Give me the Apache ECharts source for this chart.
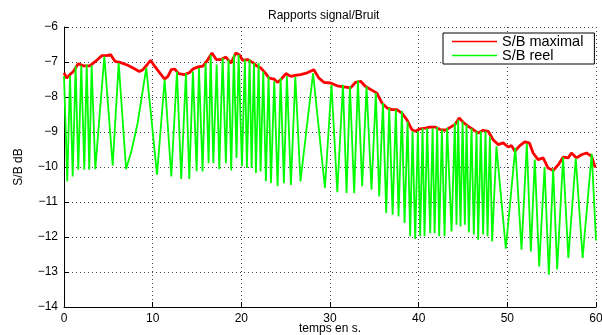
<!DOCTYPE html>
<html>
<head>
<meta charset="utf-8">
<script src="https://cdn.jsdelivr.net/npm/echarts@6/dist/echarts.min.js"></script>
<style>html,body{margin:0;padding:0;background:#fff}#c{width:602px;height:335px}</style>
</head>
<body>
<div id="c"></div>
<script>
const titleText = 'Rapports signal/Bruit';
const xName = 'temps en s.';
const yName = 'S/B dB';
const seriesNames = ['S/B maximal', 'S/B reel'];
const xTicks = [0, 10, 20, 30, 40, 50, 60];
const yTicks = [-14, -13, -12, -11, -10, -9, -8, -7, -6];

const redT = [0,0.3,0.6,1.05,1.6,2.2,2.9,3.3,3.7,4.25,4.8,5.25,5.75,6.3,7.07,7.8,8.5,8.9,9.3,9.77,10.22,10.8,11.35,11.72,12.1,12.48,12.93,13.6,14.17,14.54,15.1,15.67,16.23,16.69,17.17,17.7,18.26,18.83,19.39,19.76,20.15,20.71,21.27,21.72,22.2,22.69,23.14,23.71,24.08,24.46,25.03,25.59,26.07,26.68,27.43,28.18,28.75,29.31,30.07,30.81,31.57,32.32,32.89,33.45,34.01,34.76,35.29,35.85,36.41,36.98,37.54,38.11,38.67,39.23,39.61,40.17,40.73,41.3,41.86,42.42,42.99,43.6,44.08,44.57,45.02,45.58,46.15,46.71,47.27,47.84,48.4,48.96,49.53,50.09,50.47,50.85,51.41,51.97,52.5,52.91,53.47,54.04,54.6,55.17,55.73,56.29,56.86,57.23,57.8,58.36,58.93,59.49,59.86,60];
const redV = [-7.31,-7.46,-7.38,-7.27,-7.05,-7.11,-7.11,-7.03,-6.95,-6.82,-6.82,-6.79,-6.98,-7.01,-7.08,-7.17,-7.27,-7.22,-7.10,-6.95,-7.12,-7.31,-7.49,-7.41,-7.22,-7.2,-7.33,-7.36,-7.3,-7.2,-7.14,-7.12,-6.93,-6.74,-6.93,-6.93,-6.86,-7.03,-6.74,-6.79,-6.95,-6.93,-7.01,-7.11,-7.17,-7.31,-7.46,-7.49,-7.58,-7.5,-7.33,-7.41,-7.38,-7.36,-7.31,-7.22,-7.46,-7.58,-7.6,-7.68,-7.71,-7.74,-7.58,-7.55,-7.7,-7.81,-7.89,-8.17,-8.31,-8.36,-8.36,-8.46,-8.65,-8.93,-8.98,-8.91,-8.89,-8.86,-8.86,-8.93,-8.95,-8.86,-8.79,-8.6,-8.72,-8.84,-8.93,-9.03,-8.95,-8.98,-9.22,-9.36,-9.31,-9.43,-9.39,-9.55,-9.39,-9.28,-9.32,-9.6,-9.79,-9.74,-10.03,-10.1,-9.94,-9.72,-9.74,-9.6,-9.74,-9.65,-9.6,-9.69,-9.98,-10.0];

const greenT = [0,0.37,0.68,0.98,1.31,1.61,1.95,2.29,2.56,2.85,3.12,3.53,4.55,5.49,6.17,7.0,7.6,8.3,9.28,10.49,11.35,12.1,12.74,13.22,13.75,14.13,14.54,14.96,15.22,15.63,15.97,16.31,16.54,16.84,17.22,17.51,17.89,18.26,18.56,18.86,19.16,19.46,19.69,20.07,20.4,20.63,20.93,21.16,21.42,21.65,21.95,22.17,22.47,22.77,23.07,23.34,23.71,24.09,24.43,24.8,25.14,25.59,26.09,26.67,28.09,29.43,30.17,30.82,31.46,31.87,32.25,32.73,33.15,33.63,34.12,34.68,35.17,35.55,35.97,36.34,36.68,37.06,37.43,37.73,38.11,38.41,38.75,39.04,39.31,39.61,39.91,40.17,40.44,40.66,40.96,41.3,41.57,41.8,42.09,42.31,42.62,42.92,43.21,43.71,44.08,44.27,44.45,44.72,44.95,45.21,45.4,45.66,45.96,46.22,46.53,46.71,47.01,47.27,47.54,47.77,48.03,48.29,48.77,49.83,50.9,51.6,52.2,52.65,53.1,53.59,54.2,54.68,55.17,55.62,56.29,56.88,57.72,58.49,59.52,60];
const greenV = [-7.4,-10.41,-7.39,-10.27,-7.12,-10.08,-7.1,-10.08,-7.07,-10.08,-7.1,-10.06,-6.84,-9.96,-7.03,-10.06,-9.55,-8.75,-7.17,-10.22,-7.5,-10.27,-7.27,-10.34,-7.32,-10.34,-7.27,-10.12,-7.17,-10.13,-7.03,-9.89,-6.79,-9.89,-7.07,-10.06,-6.89,-9.89,-6.93,-10.1,-6.79,-9.74,-6.79,-9.98,-6.93,-10.03,-6.93,-10.03,-7.03,-10.17,-7.03,-10.13,-7.27,-10.41,-7.41,-10.46,-7.55,-10.55,-7.46,-10.46,-7.41,-10.51,-7.42,-10.41,-7.32,-10.6,-7.65,-10.72,-7.65,-10.74,-7.7,-10.75,-7.53,-10.55,-7.7,-10.65,-7.89,-10.84,-8.17,-11.31,-8.31,-11.36,-8.36,-11.41,-8.4,-11.6,-8.7,-11.98,-8.98,-12.06,-8.98,-11.98,-8.89,-11.98,-8.89,-11.89,-8.89,-11.89,-8.86,-11.98,-8.93,-11.98,-8.89,-11.84,-8.74,-11.65,-8.65,-11.7,-8.7,-11.65,-8.79,-11.87,-8.89,-11.93,-8.98,-12.08,-8.98,-11.93,-8.98,-11.98,-9.13,-12.13,-9.41,-12.33,-9.45,-12.36,-9.33,-12.41,-9.79,-12.84,-10.0,-13.08,-10.05,-12.93,-9.72,-12.6,-9.75,-12.6,-9.62,-12.1];

const FONT = '"Liberation Sans", Arial, sans-serif';
const chart = echarts.init(document.getElementById('c'), null, {renderer: 'canvas'});
const gridLine = {show: true, showMinLine: true, showMaxLine: true, lineStyle: {color: '#444', type: [1, 3], width: 1}};
chart.setOption({
  animation: false,
  backgroundColor: '#fff',
  title: {
    text: titleText, left: 263, top: 5,
    textStyle: {fontFamily: FONT, fontSize: 12, fontWeight: 'normal', color: '#000'}
  },
  legend: {
    orient: 'vertical', left: 443, top: 33,
    data: seriesNames.map(n => ({name: n, icon: 'rect'})),
    backgroundColor: '#fff', borderColor: '#000', borderWidth: 1, borderRadius: 0,
    padding: [1, 11, 1, 9], itemGap: -1, itemWidth: 45, itemHeight: 1.5,
    textStyle: {fontFamily: FONT, fontSize: 14.5, color: '#000', lineHeight: 13}
  },
  grid: {left: 64, right: 6, top: 27, bottom: 28, containLabel: false, outerBoundsMode: 'none'},
  xAxis: {
    type: 'value', min: xTicks[0], max: xTicks[xTicks.length - 1], interval: 10,
    name: xName, nameLocation: 'middle', nameGap: 16, nameMoveOverlap: false,
    nameTextStyle: {fontFamily: FONT, fontSize: 12, color: '#000', verticalAlign: 'top'},
    axisLine: {show: true, onZero: false, lineStyle: {color: '#000', width: 1}},
    axisTick: {show: true, inside: true, length: 5, lineStyle: {color: '#000'}},
    axisLabel: {fontFamily: FONT, fontSize: 12, color: '#000', margin: 6},
    splitLine: gridLine
  },
  yAxis: {
    type: 'value', min: yTicks[0], max: yTicks[yTicks.length - 1], interval: 1,
    name: yName, nameLocation: 'middle', nameGap: 39, nameRotate: 90, nameMoveOverlap: false,
    nameTextStyle: {fontFamily: FONT, fontSize: 12, color: '#000'},
    axisLine: {show: true, onZero: false, lineStyle: {color: '#000', width: 1}},
    axisTick: {show: true, inside: true, length: 5, lineStyle: {color: '#000'}},
    axisLabel: {fontFamily: FONT, fontSize: 12, color: '#000', margin: 6,
      formatter: v => (v < 0 ? '\u2212' + Math.abs(v) : String(v))},
    splitLine: gridLine
  },
  series: [
    {
      name: seriesNames[0], type: 'line', symbol: 'none', smooth: false,
      data: redT.map((t, i) => [t, redV[i]]),
      lineStyle: {color: '#ff0000', width: 2.8}, itemStyle: {color: '#ff0000'}
    },
    {
      name: seriesNames[1], type: 'line', symbol: 'none', smooth: false,
      data: greenT.map((t, i) => [t, greenV[i]]),
      lineStyle: {color: '#00ff00', width: 1.8}, itemStyle: {color: '#00ff00'}
    }
  ]
});
</script>
</body>
</html>
